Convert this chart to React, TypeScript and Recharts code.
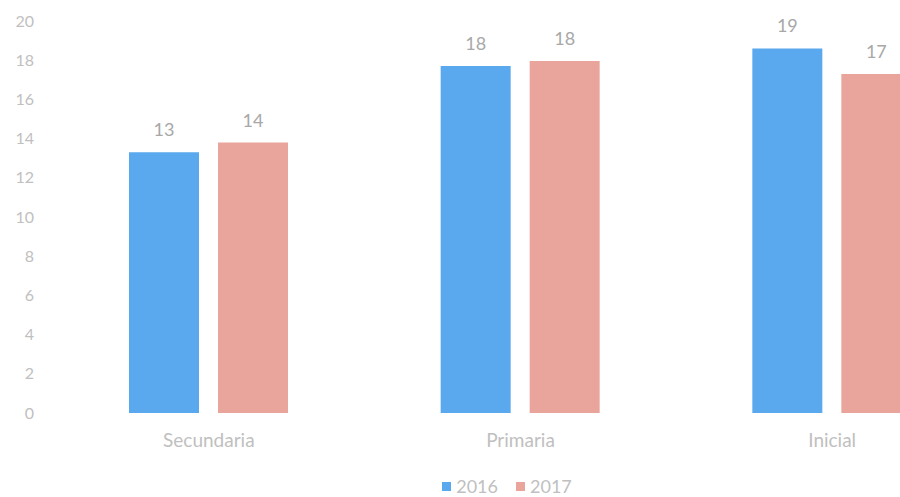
import { BarChart, Bar, XAxis, YAxis, Legend, LabelList } from 'recharts'

const levels = ['Secundaria', 'Primaria', 'Inicial']
const values2016 = [13.3, 17.7, 18.6]
const values2017 = [13.8, 17.96, 17.3]
const yTicks = [0, 2, 4, 6, 8, 10, 12, 14, 16, 18, 20]

const BLUE = '#5aa8ee'
const SALMON = '#e9a59c'
const FONT = 'Lato, "Open Sans", sans-serif'
const TICK = '#c0c0c0'

const data = levels.map((level, i) => ({
  level,
  y2016: values2016[i],
  y2017: values2017[i],
}))

function YearLegend() {
  const items = [
    { name: '2016', color: BLUE },
    { name: '2017', color: SALMON },
  ]
  return (
    <div style={{ display: 'flex', justifyContent: 'center', gap: 18, fontFamily: FONT, fontSize: 18, lineHeight: '20px', color: TICK }}>
      {items.map((it) => (
        <div key={it.name} style={{ display: 'flex', alignItems: 'center', gap: 5 }}>
          <span style={{ display: 'inline-block', width: 9, height: 9, background: it.color }} />
          <span>{it.name}</span>
        </div>
      ))}
    </div>
  )
}

export default function App() {
  return (
    <div style={{ position: 'absolute', left: 0, top: 0, width: 900, height: 497, overflow: 'hidden', background: '#fff' }}>
      <BarChart
        width={1014}
        height={497}
        data={data}
        margin={{ top: 21, right: 26, left: 0, bottom: 34 }}
        barGap={19}
        barSize={70}
      >
        <XAxis
          dataKey="level"
          axisLine={false}
          tickLine={false}
          tickSize={0}
          tickMargin={21}
          height={30}
          tick={{ fill: TICK, fontSize: 19, fontFamily: FONT }}
        />
        <YAxis
          domain={[0, 20]}
          ticks={yTicks}
          axisLine={false}
          tickLine={false}
          tickSize={0}
          tickMargin={19}
          width={53}
          tick={{ fill: TICK, fontSize: 16, fontFamily: FONT }}
        />
        <Legend
          content={<YearLegend />}
          height={24}
          wrapperStyle={{ left: 0, width: 1014, top: 476, height: 20 }}
        />
        <Bar dataKey="y2016" name="2016" fill={BLUE} isAnimationActive={false}>
          <LabelList
            dataKey="y2016"
            position="top"
            offset={16}
            formatter={(v: number) => Math.round(v)}
            style={{ fill: '#a8a8a8', fontSize: 18, fontFamily: FONT }}
          />
        </Bar>
        <Bar dataKey="y2017" name="2017" fill={SALMON} isAnimationActive={false}>
          <LabelList
            dataKey="y2017"
            position="top"
            offset={16}
            formatter={(v: number) => Math.round(v)}
            style={{ fill: '#a8a8a8', fontSize: 18, fontFamily: FONT }}
          />
        </Bar>
      </BarChart>
    </div>
  )
}
